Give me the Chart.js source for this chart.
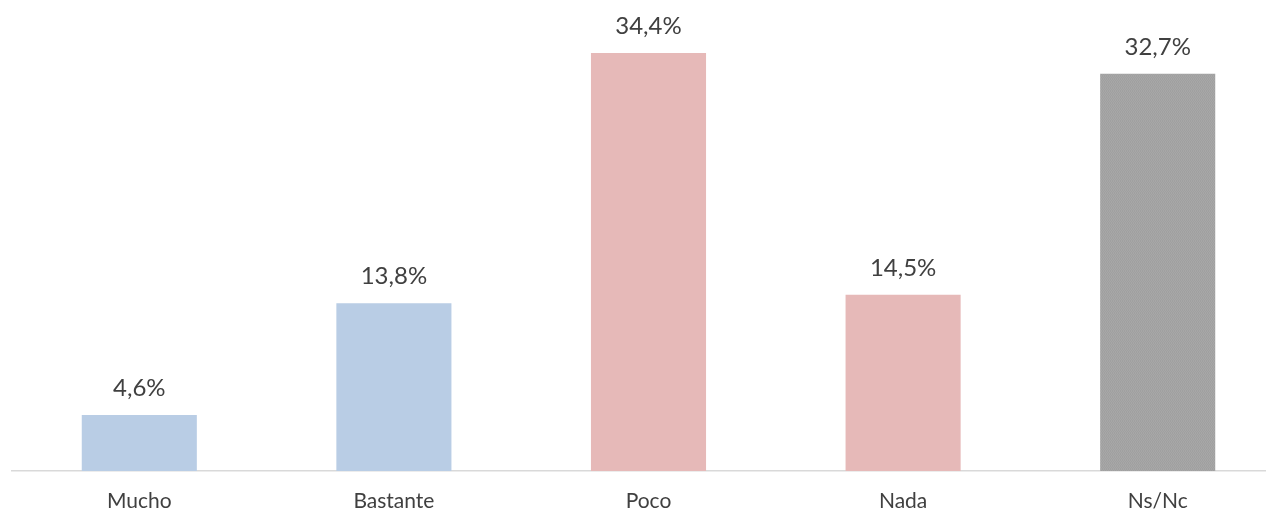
<!DOCTYPE html>
<html>
<head>
<meta charset="utf-8">
<script src="https://cdn.jsdelivr.net/npm/chart.js@4"></script>
<style>
  html, body { margin: 0; padding: 0; background: #fff; overflow: hidden; }
  #wrap { width: 1285px; height: 512px; }
</style>
</head>
<body>
<div id="wrap"><canvas id="chart" width="1285" height="512"></canvas></div>
<script>
// categories and values
const categories = ['Mucho', 'Bastante', 'Poco', 'Nada', 'Ns/Nc'];
const values = [4.6, 13.8, 34.4, 14.5, 32.7];
const valueLabels = ['4,6%', '13,8%', '34,4%', '14,5%', '32,7%'];

const TEXT = '#404040';

// fine grey texture for the last bar (subtle vertical grain)
function greyPattern() {
  const c = document.createElement('canvas');
  c.width = 2; c.height = 3;
  const g = c.getContext('2d');
  g.fillStyle = '#a7a7a7';
  g.fillRect(0, 0, 2, 3);
  g.fillStyle = '#a0a0a0';
  g.fillRect(0, 0, 1, 2);
  g.fillRect(1, 2, 1, 1);
  return g.createPattern(c, 'repeat');
}

const barColors = ['#b9cde5', '#b9cde5', '#e6b9b8', '#e6b9b8', greyPattern()];

/* labels au-dessus des barres */
const valueLabelsPlugin = {
  id: 'valueLabels',
  afterDatasetsDraw(chart) {
    const { ctx } = chart;
    const meta = chart.getDatasetMeta(0);
    ctx.save();
    ctx.font = '24px Lato';
    ctx.fillStyle = TEXT;
    ctx.textAlign = 'center';
    ctx.textBaseline = 'alphabetic';
    meta.data.forEach((bar, i) => {
      ctx.fillText(valueLabels[i], bar.x, bar.y - 19);
    });
    ctx.restore();
  }
};

new Chart(document.getElementById('chart'), {
  type: 'bar',
  data: {
    labels: categories,
    datasets: [{
      data: values,
      backgroundColor: barColors,
      borderWidth: 0,
      categoryPercentage: 1,
      barPercentage: 0.452
    }]
  },
  options: {
    responsive: false,
    animation: false,
    layout: { padding: { left: 12, right: 0, top: 0, bottom: 0 } },
    plugins: {
      legend: { display: false },
      tooltip: { enabled: false }
    },
    scales: {
      x: {
        grid: { display: false, drawTicks: false },
        border: { display: true, color: '#d9d9d9', width: 1.5 },
        ticks: {
          color: TEXT,
          font: { family: 'Lato', size: 21 },
          padding: 18
        },
        afterFit(scale) { scale.height = 41; }
      },
      y: {
        display: false,
        min: 0,
        max: 38.76
      }
    }
  },
  plugins: [valueLabelsPlugin]
});
</script>
</body>
</html>
